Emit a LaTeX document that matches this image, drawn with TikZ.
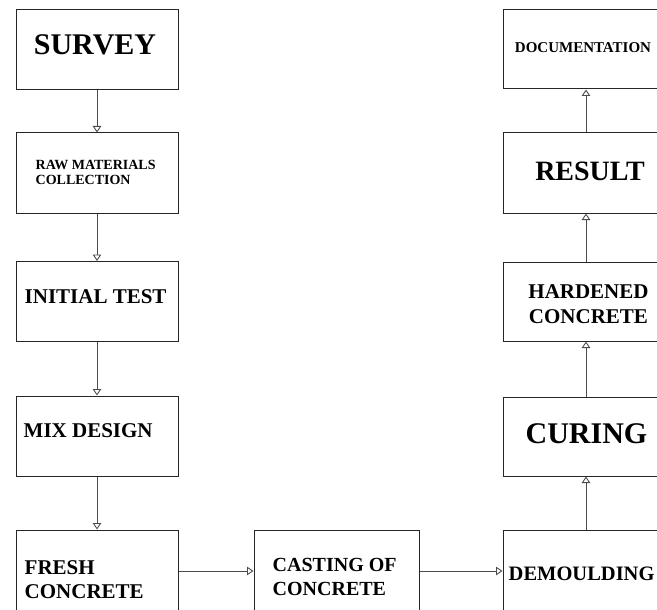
\documentclass[tikz,border=0pt]{standalone}
\usepackage{fontspec}
\setmainfont{Liberation Serif}
\usetikzlibrary{arrows.meta,calc}
\begin{document}
\begin{tikzpicture}[x=1pt,y=-1pt,
  box/.style={draw=black!85, line width=1pt, inner sep=0pt},
  lbox/.style={box, minimum width=162pt, minimum height=80pt},
  rbox/.style={box, minimum width=166pt, minimum height=80pt},
  flow/.style={draw=black!70, line width=0.9pt, -{Triangle[open, length=6.5pt, width=8.5pt, line width=0.9pt]}},
  txt/.style={inner sep=0pt, align=left},
  ctxt/.style={inner sep=0pt, align=center}]
\useasboundingbox (0,0) rectangle (657,610);
\clip (0,0) rectangle (657,610);
\fill[white] (0,0) rectangle (657,610);
% left column
\node[lbox] (survey) at (97,49.5) {};
\node[lbox] (raw) at (97,173) {};
\node[lbox] (ini) at (97,301.5) {};
\node[lbox] (mix) at (97,436) {};
\node[lbox, minimum height=82pt] (fresh) at (97,571) {};
% bottom middle
\node[box, minimum width=165pt, minimum height=82pt] (cast) at (336.5,571) {};
% right column
\node[rbox, minimum height=82pt] (demo) at (586,571) {};
\node[rbox, minimum height=79pt] (curing) at (586,436.5) {};
\node[rbox, minimum height=79pt] (hard) at (586,301.5) {};
\node[rbox] (result) at (586,173) {};
\node[rbox, minimum height=79pt] (doc) at (586,49.5) {};
% texts
\node[ctxt, font=\bfseries\fontsize{30}{30}\selectfont] (surveyt) at ($(survey.center)+(-2,-4.5)$) {SURVEY};
\node[txt, anchor=west, font=\bfseries\fontsize{14}{15}\selectfont] (rawt) at ($(raw.west)+(20,-1)$) {RAW MATERIALS\\COLLECTION};
\node[txt, anchor=west, font=\bfseries\fontsize{21}{24}\selectfont] (init) at ($(ini.west)+(9,-5)$) {INITIAL TEST};
\node[txt, anchor=west, font=\bfseries\fontsize{21}{24}\selectfont] (mixt) at ($(mix.west)+(8,-5.5)$) {MIX DESIGN};
\node[txt, anchor=west, font=\bfseries\fontsize{21}{24}\selectfont] (fresht) at ($(fresh.west)+(9,9)$) {FRESH\\CONCRETE};
\node[txt, anchor=west, font=\bfseries\fontsize{20}{24}\selectfont] (castt) at ($(cast.west)+(19,6)$) {CASTING OF\\CONCRETE};
\node[txt, anchor=west, font=\bfseries\fontsize{20.5}{24}\selectfont] (demot) at ($(demo.west)+(6,2.5)$) {DEMOULDING};
\node[ctxt, font=\bfseries\fontsize{30}{30}\selectfont] (curingt) at ($(curing.center)+(0.5,-2.5)$) {CURING};
\node[ctxt, font=\bfseries\fontsize{21}{25}\selectfont] (hardt) at ($(hard.center)+(2.5,3)$) {HARDENED\\CONCRETE};
\node[ctxt, font=\bfseries\fontsize{28}{28}\selectfont] (resultt) at ($(result.center)+(4,-1.5)$) {RESULT};
\node[ctxt, font=\bfseries\fontsize{15}{15}\selectfont] (doct) at ($(doc.center)+(-3,-1.5)$) {DOCUMENTATION};
% connectors
\draw[flow] (survey.south) -- (raw.north);
\draw[flow] (raw.south) -- (ini.north);
\draw[flow] (ini.south) -- (mix.north);
\draw[flow] (mix.south) -- (fresh.north);
\draw[flow] (fresh.east) -- (cast.west);
\draw[flow] (cast.east) -- (demo.west);
\draw[flow] (demo.north) -- (curing.south);
\draw[flow] (curing.north) -- (hard.south);
\draw[flow] (hard.north) -- (result.south);
\draw[flow] (result.north) -- (doc.south);
\end{tikzpicture}
\end{document}
